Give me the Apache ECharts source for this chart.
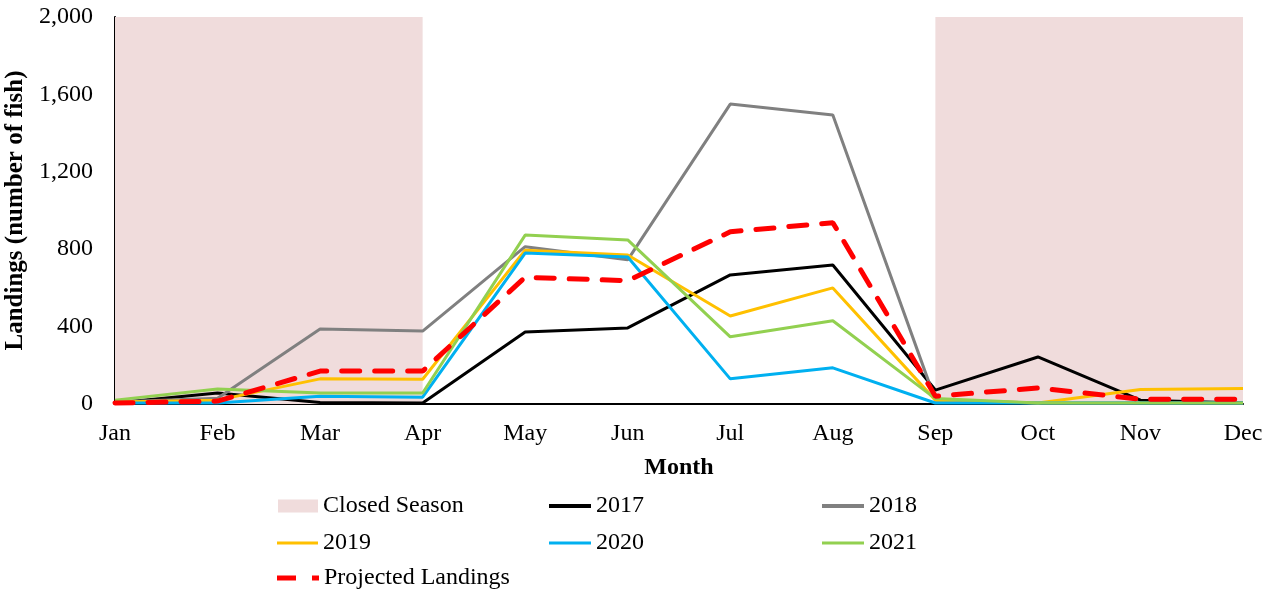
<!DOCTYPE html>
<html>
<head>
<meta charset="utf-8">
<script src="https://cdn.jsdelivr.net/npm/echarts@6/dist/echarts.min.js"></script>
<style>
  html, body { margin: 0; padding: 0; background: #fff; }
  #chart { width: 1277px; height: 596px; }
</style>
</head>
<body>
<div id="chart"></div>
<script>
// Monthly landings (number of fish)
const months = ['Jan', 'Feb', 'Mar', 'Apr', 'May', 'Jun', 'Jul', 'Aug', 'Sep', 'Oct', 'Nov', 'Dec'];
const landings2017 = [5, 57, 8, 5, 372, 393, 667, 718, 72, 243, 20, 5];
const landings2018 = [10, 30, 388, 377, 813, 745, 1550, 1493, 20, 5, 5, 5];
const landings2019 = [10, 20, 130, 128, 795, 770, 455, 600, 20, 5, 75, 80];
const landings2020 = [5, 5, 40, 35, 780, 760, 130, 187, 5, 5, 5, 5];
const landings2021 = [20, 77, 57, 57, 873, 848, 347, 430, 28, 5, 5, 5];
const projected = [5, 15, 170, 170, 655, 637, 890, 937, 40, 83, 25, 25];
// Closed season spans (start month, end month)
const closedSeasons = [['Jan', 'Apr'], ['Sep', 'Dec']];
const yTicks = { min: 0, max: 2000, interval: 400 };

const FONT = '"Liberation Serif", "Times New Roman", serif';
const CLOSED_COLOR = '#F0DCDC';
const LEGEND_FONT = 24;

const chart = echarts.init(document.getElementById('chart'));

function lineSeries(name, data, color, extra) {
  return Object.assign({
    name: name,
    type: 'line',
    data: data,
    symbol: 'none',
    lineStyle: { color: color, width: 3 },
    itemStyle: { color: color },
    emphasis: { disabled: true }
  }, extra || {});
}

// One legend block per entry so the three-column layout can be placed freely
function legendAt(name, left, centerY, icon, w, h, itemStyle) {
  const item = { name: name, icon: icon };
  if (itemStyle) item.itemStyle = itemStyle;
  return {
    data: [item],
    left: left,
    top: centerY - LEGEND_FONT / 2,
    padding: 0,
    itemWidth: w,
    itemHeight: h,
    itemGap: 0,
    textStyle: { fontFamily: FONT, fontSize: LEGEND_FONT, color: '#000', lineHeight: LEGEND_FONT },
    selectedMode: false
  };
}

const dashDotIcon = 'path://M0,0h19v5h-19z M35,0h7v5h-7z';

const option = {
  animation: false,
  backgroundColor: '#fff',
  grid: { left: 115, right: 34, top: 17, bottom: 192, containLabel: false, outerBoundsMode: 'none' },
  legend: [
    legendAt('Closed Season', 278, 506, 'rect', 40, 13, { color: CLOSED_COLOR }),
    legendAt('2017', 549, 506, 'rect', 42, 4),
    legendAt('2018', 822, 506, 'rect', 42, 4),
    legendAt('2019', 277, 543, 'rect', 41, 3),
    legendAt('2020', 549, 543, 'rect', 42, 3),
    legendAt('2021', 822, 543, 'rect', 42, 3),
    legendAt('Projected Landings', 277, 578, dashDotIcon, 42, 5)
  ],
  xAxis: {
    type: 'category',
    data: months,
    boundaryGap: false,
    name: 'Month',
    nameLocation: 'middle',
    nameGap: 52,
    nameTextStyle: { fontFamily: FONT, fontSize: 24, fontWeight: 'bold', color: '#000' },
    axisLine: { lineStyle: { color: '#000', width: 2 } },
    axisTick: { show: false },
    axisLabel: { fontFamily: FONT, fontSize: 24, color: '#000', margin: 18 },
    splitLine: { show: false }
  },
  yAxis: {
    type: 'value',
    min: yTicks.min,
    max: yTicks.max,
    interval: yTicks.interval,
    name: 'Landings (number of fish)',
    nameLocation: 'middle',
    nameGap: 79,
    nameTextStyle: { fontFamily: FONT, fontSize: 25, fontWeight: 'bold', color: '#000' },
    axisLine: { show: true, lineStyle: { color: '#000', width: 2 } },
    axisTick: { show: false },
    axisLabel: {
      fontFamily: FONT, fontSize: 24, color: '#000', margin: 22,
      formatter: v => v.toLocaleString('en-US')
    },
    splitLine: { show: false }
  },
  series: [
    {
      name: 'Closed Season',
      type: 'line',
      data: [],
      symbol: 'none',
      itemStyle: { color: CLOSED_COLOR },
      lineStyle: { width: 0 },
      markArea: {
        silent: true,
        itemStyle: { color: CLOSED_COLOR },
        data: closedSeasons.map(([a, b]) => [{ xAxis: a }, { xAxis: b }])
      }
    },
    lineSeries('2017', landings2017, '#000000'),
    lineSeries('2018', landings2018, '#808080'),
    lineSeries('2019', landings2019, '#FFC000'),
    lineSeries('2020', landings2020, '#00B0F0'),
    lineSeries('2021', landings2021, '#92D050'),
    lineSeries('Projected Landings', projected, '#FF0000', {
      lineStyle: { color: '#FF0000', width: 5, type: [18, 15], cap: 'round' },
      z: 5
    })
  ]
};

chart.setOption(option);
</script>
</body>
</html>
